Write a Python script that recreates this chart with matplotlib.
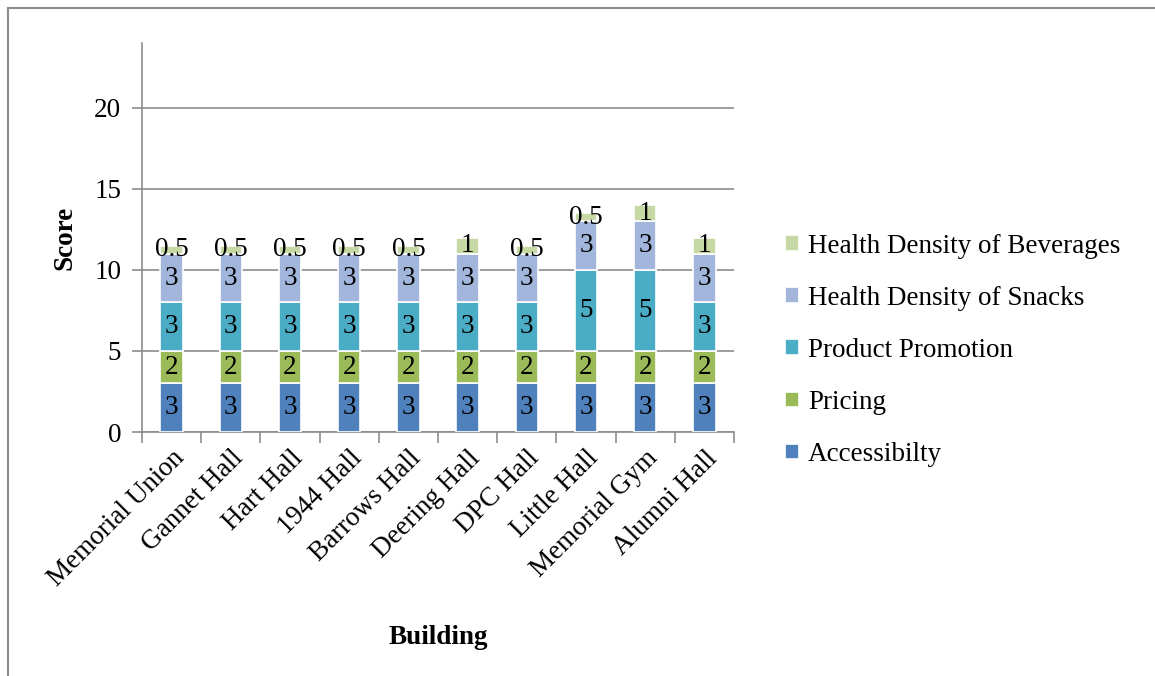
import numpy as np
import matplotlib.pyplot as plt
from matplotlib.lines import Line2D

buildings = ['Memorial Union', 'Gannet Hall', 'Hart Hall', '1944 Hall', 'Barrows Hall',
             'Deering Hall', 'DPC Hall', 'Little Hall', 'Memorial Gym', 'Alumni Hall']
accessibility = [3, 3, 3, 3, 3, 3, 3, 3, 3, 3]
pricing = [2, 2, 2, 2, 2, 2, 2, 2, 2, 2]
promotion = [3, 3, 3, 3, 3, 3, 3, 5, 5, 3]
snacks = [3, 3, 3, 3, 3, 3, 3, 3, 3, 3]
beverages = [0.5, 0.5, 0.5, 0.5, 0.5, 1, 0.5, 0.5, 1, 1]

series = [
    ('Accessibilty', accessibility, '#4F81BD'),
    ('Pricing', pricing, '#9BBB59'),
    ('Product Promotion', promotion, '#4BACC6'),
    ('Health Density of Snacks', snacks, '#A2B6DB'),
    ('Health Density of Beverages', beverages, '#C6D8A3'),
]

plt.rcParams['font.family'] = ['Liberation Serif', 'DejaVu Serif']
fs = 19.5

fig = plt.figure(figsize=(11.55, 6.76), dpi=100)
ax = fig.add_axes([142 / 1155, 1 - 432 / 676, (734 - 142) / 1155, (432 - 43) / 676])

x = np.arange(len(buildings))
bottom = np.zeros(len(buildings))
handles = []
for name, vals, color in series:
    vals = np.array(vals, dtype=float)
    bars = ax.bar(x, vals, width=0.38, bottom=bottom, color=color,
                  edgecolor='white', linewidth=1.2, label=name, zorder=3)
    for xi, b, v in zip(x, bottom, vals):
        ax.text(xi, b + v / 2, f'{v:g}', ha='center', va='center',
                fontsize=fs, zorder=4)
    bottom += vals
    handles.append(bars)

ax.set_ylim(0, 24)
ax.set_xlim(-0.5, len(buildings) - 0.5)
ax.set_yticks([0, 5, 10, 15, 20])
ax.yaxis.grid(True, color='#8c8c8c', linewidth=1.2, zorder=0)
ax.set_axisbelow(True)

ax.set_xticks(x)
ax.set_xticklabels(buildings, rotation=45, ha='right', rotation_mode='anchor', fontsize=fs)
ax.set_xticks(np.arange(-0.5, len(buildings)), minor=True)
ax.tick_params(axis='x', which='major', length=0, pad=10)
ax.tick_params(axis='x', which='minor', length=8, color='#8c8c8c', width=1.2)
ax.tick_params(axis='y', length=7, color='#8c8c8c', width=1.2, labelsize=fs, pad=8)

for side in ['top', 'right']:
    ax.spines[side].set_visible(False)
for side in ['left', 'bottom']:
    ax.spines[side].set_color('#8c8c8c')
    ax.spines[side].set_linewidth(1.2)

ax.set_ylabel('Score', fontsize=fs, fontweight='bold', labelpad=12)
ax.set_xlabel('Building', fontsize=fs, fontweight='bold', labelpad=24)

ax.legend(handles[::-1], [s[0] for s in series][::-1], loc='center left',
          bbox_to_anchor=(1.045, 0.21), frameon=False, fontsize=fs,
          handlelength=0.5, handleheight=0.5, handletextpad=0.35, labelspacing=1.0)

# outer frame lines (left and top only)
fig.add_artist(Line2D([8 / 1155, 8 / 1155], [0, 1 - 8 / 676], transform=fig.transFigure,
                      color='#8c8c8c', linewidth=1.5))
fig.add_artist(Line2D([8 / 1155, 1], [1 - 8 / 676, 1 - 8 / 676], transform=fig.transFigure,
                      color='#8c8c8c', linewidth=1.5))

fig.savefig('out.png', dpi=100)
